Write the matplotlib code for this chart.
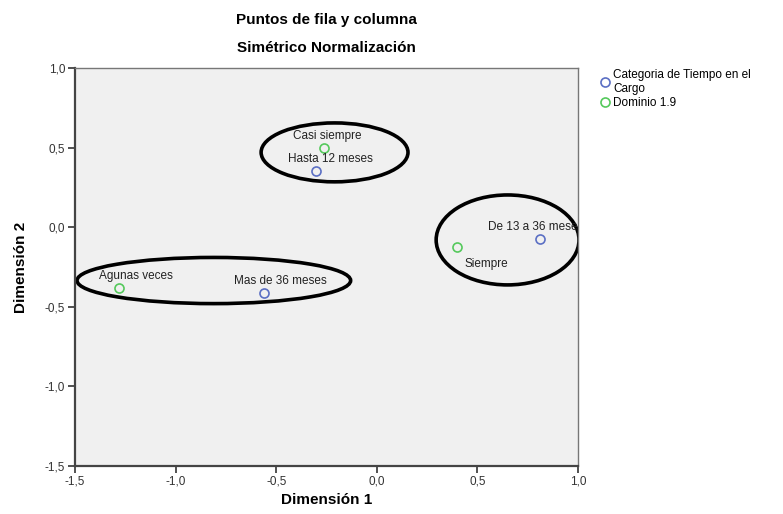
import numpy as np
import matplotlib.pyplot as plt
from matplotlib.patches import Ellipse
from matplotlib.ticker import FuncFormatter
from matplotlib.transforms import offset_copy

plt.rcParams['font.family'] = ['Liberation Sans', 'DejaVu Sans']

# datos de las categorias (dimension 1, dimension 2)
tiempo_lbl = ['Hasta 12 meses', 'De 13 a 36 meses', 'Mas de 36 meses']
tiempo_x = [-0.30, 0.81, -0.56]
tiempo_y = [0.35, -0.075, -0.415]

dominio_lbl = ['Casi siempre', 'Siempre', 'Agunas veces']
dominio_x = [-0.26, 0.40, -1.28]
dominio_y = [0.50, -0.125, -0.385]

# elipses dibujadas a mano: centro x, centro y, ancho, alto
elip_cx = [-0.81, -0.21, 0.65]
elip_cy = [-0.335, 0.47, -0.08]
elip_w = [1.36, 0.73, 0.71]
elip_h = [0.29, 0.37, 0.565]

azul = '#5b6fc4'
verde = '#55c95c'

fig = plt.figure(figsize=(7.83, 5.14), dpi=100)
ax = fig.add_axes([75/783, 1-466/514, 503/783, 398/514])
ax.set_facecolor('#f0f0f0')

ax.plot(tiempo_x, tiempo_y, 'o', mfc='none', mec=azul, ms=6.5, mew=1.2,
        label='Categoria de Tiempo en el\nCargo', clip_on=False)
ax.plot(dominio_x, dominio_y, 'o', mfc='none', mec=verde, ms=6.5, mew=1.2,
        label='Dominio 1.9', clip_on=False)

# desplazamientos de las etiquetas en puntos
off_t = [(10, 9), (-3, 9), (12, 9)]
off_d = [(2, 8), (21, -12), (12, 9)]
for lbl, x, y, o in zip(tiempo_lbl + dominio_lbl, tiempo_x + dominio_x,
                        tiempo_y + dominio_y, off_t + off_d):
    tr = offset_copy(ax.transData, fig=fig, x=o[0], y=o[1], units='points')
    ax.text(x, y, lbl, transform=tr, ha='center', va='center',
            fontsize=8.5, color='#222222', clip_on=True)

for cx, cy, w, h in zip(elip_cx, elip_cy, elip_w, elip_h):
    ax.add_patch(Ellipse((cx, cy), w, h, fill=False, ec='black', lw=2.6))

ax.set_xlim(-1.5, 1.0)
ax.set_ylim(-1.5, 1.0)
ax.set_xticks(np.arange(-1.5, 1.01, 0.5))
ax.set_yticks(np.arange(-1.5, 1.01, 0.5))
fmt = FuncFormatter(lambda v, p: ('%.1f' % v).replace('.', ','))
ax.xaxis.set_major_formatter(fmt)
ax.yaxis.set_major_formatter(fmt)
ax.tick_params(labelsize=8.5, length=5, width=1.2, colors='#333333', pad=2)

for s in ['left', 'bottom']:
    ax.spines[s].set_linewidth(1.6)
    ax.spines[s].set_color('#444444')
for s in ['top', 'right']:
    ax.spines[s].set_linewidth(1.0)
    ax.spines[s].set_color('#777777')

ax.set_xlabel('Dimensión 1', fontsize=11, fontweight='bold', labelpad=4)
ax.set_ylabel('Dimensión 2', fontsize=11, fontweight='bold', labelpad=12)

fig.text(326/783, 1-20/514, 'Puntos de fila y columna', ha='center',
         va='center', fontsize=11, fontweight='bold')
fig.text(326/783, 1-48/514, 'Simétrico Normalización', ha='center',
         va='center', fontsize=11, fontweight='bold')

ax.legend(loc='upper left', bbox_to_anchor=(1.03, 1.01), frameon=False,
          fontsize=8.5, handletextpad=0.1, handlelength=1.2,
          labelspacing=0.2, borderaxespad=0)

fig.savefig('out.png', dpi=100)
